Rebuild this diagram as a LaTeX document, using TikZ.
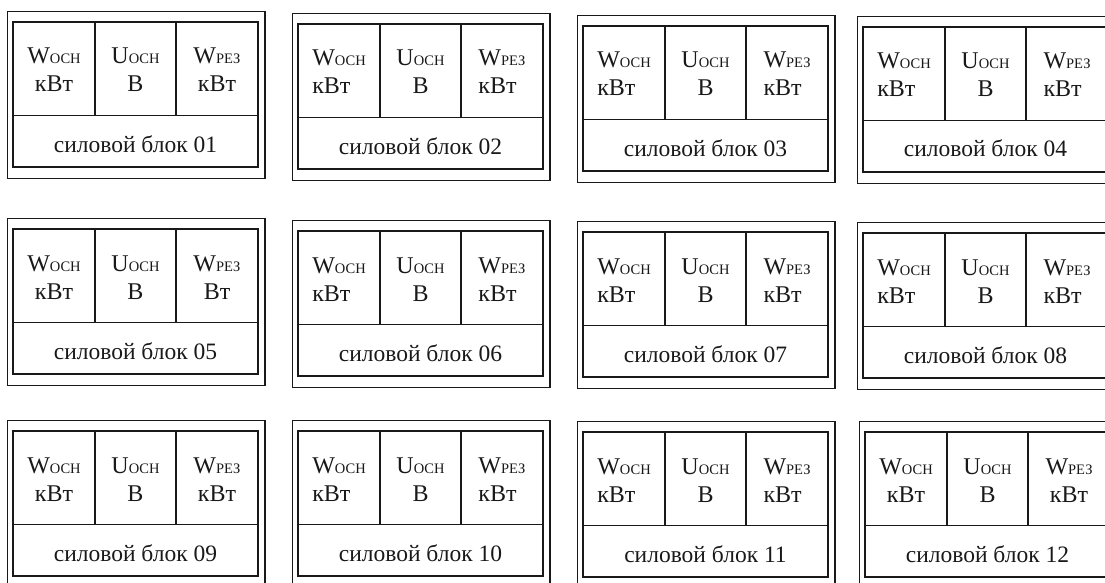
\documentclass[tikz,border=0pt]{standalone}
\usepackage{fontspec}
\setmainfont{Liberation Serif}
\newcommand{\topfont}{\fontsize{24}{28}\selectfont}
\newcommand{\subfont}{\fontsize{14.5}{14.5}\selectfont}
\newcommand{\botfont}{\fontsize{23.5}{23.5}\selectfont}
\tikzset{
  frame/.style={draw=black!90, line width=1.2pt},
  cell/.style={anchor=base, inner sep=0pt, font=\topfont, text=black!90},
  lbl/.style={anchor=base, inner sep=0pt, font=\botfont, text=black!90}
}
\newcommand{\pblock}[6]{%
\begin{scope}[shift={(#2,#3)}]
\draw[frame] (-5.5,-10.5) rectangle (252,156.5);
\draw[frame] (0,0) rectangle (245,145);
\draw[frame] (0,93.5) -- (245,93.5);
\draw[frame] (82,0) -- (82,93.5);
\draw[frame] (163,0) -- (163,93.5);
\node[cell] (#1a) at (41,42) {\begin{tabular}[t]{@{}#5@{}}W{\subfont ОСН}\\кВт\end{tabular}};
\node[cell] (#1b) at (122.5,42) {\begin{tabular}[t]{@{}c@{}}U{\subfont ОСН}\\В\end{tabular}};
\node[cell] (#1c) at (204,42) {\begin{tabular}[t]{@{}#5@{}}W{\subfont РЕЗ}\\#6\end{tabular}};
\node[lbl] (#1d) at (122.5,130) {силовой блок #4};
\end{scope}}
\begin{document}
\begin{tikzpicture}[x=1pt,y=-1pt]
\useasboundingbox (0,0) rectangle (1105,583);
\fill[white] (0,0) rectangle (1105,583);
\clip (0,0) rectangle (1105,583);
\pblock{b01}{13}{22}{01}{c}{кВт}
\pblock{b02}{298}{24}{02}{l}{кВт}
\pblock{b03}{583}{26}{03}{l}{кВт}
\pblock{b04}{863}{27}{04}{l}{кВт}
\pblock{b05}{13}{229}{05}{c}{Вт}
\pblock{b06}{298}{231}{06}{l}{кВт}
\pblock{b07}{583}{232}{07}{l}{кВт}
\pblock{b08}{863}{233}{08}{l}{кВт}
\pblock{b09}{13}{431}{09}{c}{кВт}
\pblock{b10}{298}{431}{10}{l}{кВт}
\pblock{b11}{583}{432}{11}{l}{кВт}
\pblock{b12}{865}{432}{12}{c}{кВт}
\end{tikzpicture}
\end{document}
